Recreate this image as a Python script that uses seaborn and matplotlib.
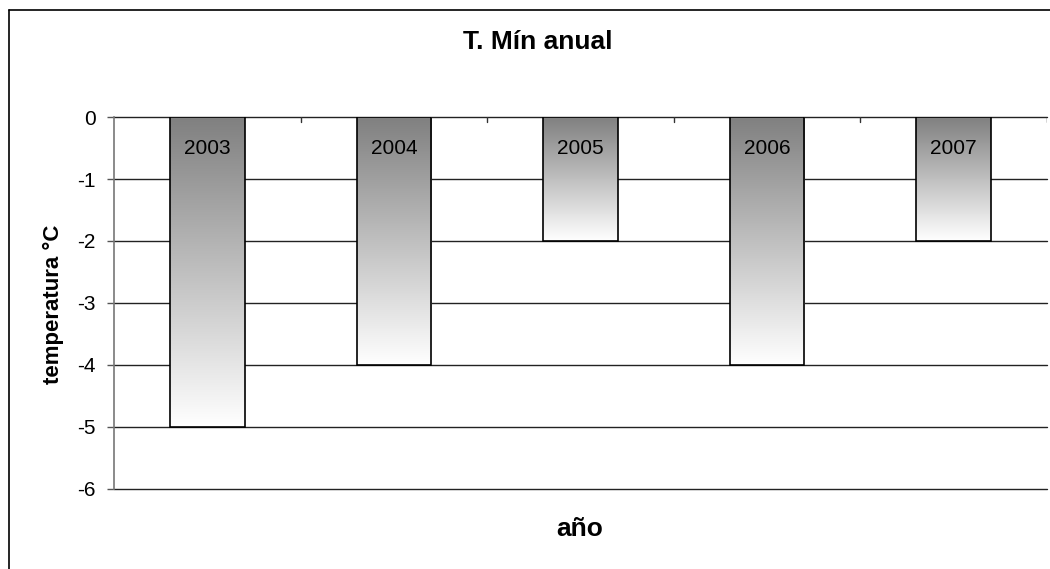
import matplotlib
matplotlib.use("Agg")
import matplotlib.pyplot as plt
import seaborn as sns
import numpy as np
import pandas as pd
from matplotlib.lines import Line2D

years = ["2003", "2004", "2005", "2006", "2007"]
tmin = [-5, -4, -2, -4, -2]
yticks = [0, -1, -2, -3, -4, -5, -6]

sns.set_theme(style="white")
plt.rcParams['font.family'] = ['Liberation Sans', 'DejaVu Sans']
plt.rcParams['text.color'] = 'black'
plt.rcParams['ytick.color'] = 'black'
plt.rcParams['ytick.labelcolor'] = 'black'

fig = plt.figure(figsize=(10.5, 5.69), dpi=100)
ax = fig.add_axes([114/1050, 1-489/569, (1047-114)/1050, (489-117)/569])

df = pd.DataFrame({"year": years, "tmin": tmin})
sns.barplot(data=df, x="year", y="tmin", ax=ax, width=0.4, color="white",
            edgecolor="black", linewidth=1.2, zorder=3)

ax.set_ylim(-6, 0)
ax.set_xlim(-0.5, len(years) - 0.5)

# gradient fill
grad = np.linspace(0, 1, 256).reshape(-1, 1)
cmap = matplotlib.colors.LinearSegmentedColormap.from_list("g", ["#808080", "#ffffff"])
for p in ax.patches:
    x0 = p.get_x(); w = p.get_width()
    y0 = p.get_y(); h = p.get_height()
    top = max(y0, y0 + h); bot = min(y0, y0 + h)
    im = ax.imshow(grad, cmap=cmap, aspect="auto", extent=[x0, x0 + w, bot, top],
                   origin="upper", zorder=2.5, interpolation="bicubic")
    im.set_clip_path(p)
    p.set_facecolor("none")

for i, (yr, v) in enumerate(zip(years, tmin)):
    ax.text(i, -0.5, yr, ha="center", va="center", fontsize=15, color="black", zorder=4)

for t in yticks:
    ax.axhline(t, color="#222222", lw=1.0, zorder=1, clip_on=False)

ax.set_yticks(yticks)
ax.set_yticklabels([str(t) for t in yticks], fontsize=15)
ax.set_xticks([])
for b in np.arange(0.5, len(years) + 0.5, 1.0):
    ax.plot([b, b], [0, -0.08], color="#333333", lw=1, zorder=1)

ax.tick_params(axis="y", left=True, length=5, width=1, color="#555555", pad=8)
for s in ["top", "right", "bottom"]:
    ax.spines[s].set_visible(False)
ax.spines["left"].set_color("#777777")
ax.spines["left"].set_linewidth(1.2)
ax.set_xlabel("")
ax.set_ylabel("")

fig.text(538/1050, 1-42/569, "T. Mín anual", ha="center", va="center", fontsize=19, fontweight="bold")
fig.text(580/1050, 1-529/569, "año", ha="center", va="center", fontsize=19, fontweight="bold")
fig.text(53/1050, 1-304/569, "temperatura °C", ha="center", va="center", fontsize=16,
         fontweight="bold", rotation=90)

# outer chart border
fig.add_artist(Line2D([9/1050, 9/1050], [0, 1-10/569], color="black", lw=1.2, transform=fig.transFigure))
fig.add_artist(Line2D([9/1050, 1], [1-10/569, 1-10/569], color="black", lw=1.2, transform=fig.transFigure))

fig.savefig("out.png", dpi=100)
